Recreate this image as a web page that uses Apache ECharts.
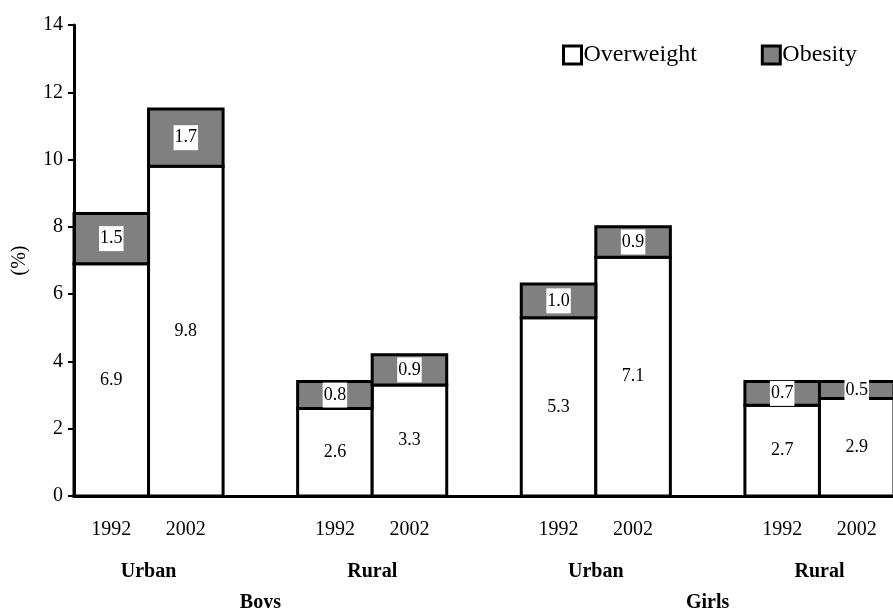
<!DOCTYPE html>
<html>
<head>
<meta charset="utf-8">
<script src="https://cdn.jsdelivr.net/npm/echarts@6/dist/echarts.min.js"></script>
<style>html,body{margin:0;padding:0;background:#fff;}#c{width:893px;height:608px;}</style>
</head>
<body>
<div id="c"></div>
<script>
const categories = ['1992','2002','','1992','2002','','1992','2002','','1992','2002'];
const overweight = [6.9, 9.8, null, 2.6, 3.3, null, 5.3, 7.1, null, 2.7, 2.9];
const obesity = [1.5, 1.7, null, 0.8, 0.9, null, 1.0, 0.9, null, 0.7, 0.5];
// group labels on a 23-position half-slot scale (positions at slot boundaries)
const areaLabels = ['','','Urban','','','','','','Rural','','','','','','Urban','','','','','','Rural','',''];
const sexLabels = ['','','','','','Boys','','','','','','','','','','','','Girls','','','','',''];

const FONT = 'Liberation Serif';

// stacked data: [categoryIndex, base, value]
function stackData(vals, bases) {
  const out = [];
  vals.forEach((v, i) => { if (v != null) out.push([i, bases ? (bases[i] || 0) : 0, v]); });
  return out;
}

function makeRender(fill, labelBg) {
  return function (params, api) {
    const idx = api.value(0), base = api.value(1), v = api.value(2);
    const p0 = api.coord([idx, base]);
    const p1 = api.coord([idx, base + v]);
    const w = api.size([1, 0])[0];
    const txtStyle = {
      text: v.toFixed(1), fill: '#000', fontSize: 18, fontFamily: FONT
    };
    if (labelBg) { txtStyle.backgroundColor = '#fff'; txtStyle.padding = [4, 1, 3, 1]; }
    return {
      type: 'rect',
      shape: { x: p0[0] - w / 2, y: p1[1], width: w, height: p0[1] - p1[1] },
      style: { fill: fill, stroke: '#000', lineWidth: 3 },
      textContent: { style: txtStyle },
      textConfig: { position: 'inside' }
    };
  };
}

const chart = echarts.init(document.getElementById('c'));
chart.setOption({
  animation: false,
  backgroundColor: '#fff',
  textStyle: { fontFamily: FONT, color: '#000' },
  grid: { left: 74, top: 25, width: 820, height: 471, containLabel: false, outerBoundsMode: 'none' },
  legend: {
    left: 557, top: 38,
    itemWidth: 18, itemHeight: 18, itemGap: 64,
    icon: 'rect',
    itemStyle: { borderWidth: 3, borderColor: '#000' },
    textStyle: { fontFamily: FONT, fontSize: 24, color: '#000', padding: [0,0,0,-3] },
    data: ['Overweight', 'Obesity']
  },
  xAxis: [
    {
      type: 'category', data: categories, boundaryGap: true,
      axisLine: { lineStyle: { color: '#000', width: 3 } },
      axisTick: { show: false },
      axisLabel: { interval: 0, margin: 24, fontFamily: FONT, fontSize: 20, color: '#000' },
      z: 10
    },
    {
      type: 'category', data: areaLabels, boundaryGap: false, position: 'bottom', offset: 58,
      axisLine: { show: false }, axisTick: { show: false },
      axisLabel: { interval: 0, fontFamily: FONT, fontSize: 20, fontWeight: 'bold', color: '#000' }
    },
    {
      type: 'category', data: sexLabels, boundaryGap: false, position: 'bottom', offset: 89,
      axisLine: { show: false }, axisTick: { show: false },
      axisLabel: { interval: 0, fontFamily: FONT, fontSize: 20, fontWeight: 'bold', color: '#000' }
    }
  ],
  yAxis: {
    type: 'value', min: 0, max: 14, interval: 2,
    name: '(%)', nameLocation: 'middle', nameGap: 44, nameRotate: 90,
    nameTextStyle: { fontFamily: FONT, fontSize: 20, color: '#000' },
    axisLine: { show: true, lineStyle: { color: '#000', width: 3 } },
    axisTick: { show: true, length: 6, lineStyle: { color: '#000', width: 2 } },
    axisLabel: { margin: 11, fontFamily: FONT, fontSize: 20, color: '#000' },
    splitLine: { show: false },
    z: 10
  },
  series: [
    {
      name: 'Overweight', type: 'custom', xAxisIndex: 0, yAxisIndex: 0,
      itemStyle: { color: '#fff', borderColor: '#000', borderWidth: 3 },
      data: stackData(overweight, null),
      encode: { x: 0, y: [1, 2] },
      renderItem: makeRender('#fff', false)
    },
    {
      name: 'Obesity', type: 'custom', xAxisIndex: 0, yAxisIndex: 0,
      itemStyle: { color: '#808080', borderColor: '#000', borderWidth: 3 },
      data: stackData(obesity, overweight),
      encode: { x: 0, y: [1, 2] },
      renderItem: makeRender('#808080', true)
    }
  ]
});
</script>
</body>
</html>
